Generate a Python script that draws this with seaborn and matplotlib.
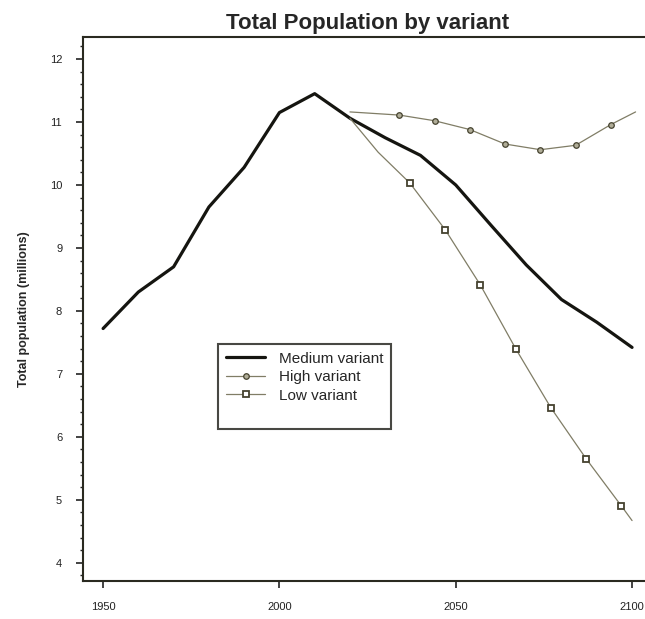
import numpy as np
import pandas as pd
import seaborn as sns
import matplotlib.pyplot as plt
from matplotlib.lines import Line2D
from matplotlib.ticker import MultipleLocator

# data (millions)
medium_years = [1950, 1960, 1970, 1980, 1990, 2000, 2010, 2020, 2030, 2040, 2050, 2060, 2070, 2080, 2090, 2100]
medium_vals = [7.72, 8.3, 8.7, 9.65, 10.28, 11.15, 11.45, 11.06, 10.75, 10.47, 10.0, 9.36, 8.73, 8.18, 7.82, 7.42]

high_years = [2020, 2034, 2044, 2054, 2064, 2074, 2084, 2094, 2101]
high_vals = [11.16, 11.11, 11.02, 10.88, 10.65, 10.56, 10.63, 10.96, 11.16]

low_years = [2020, 2028, 2037, 2047, 2057, 2067, 2077, 2087, 2097, 2100]
low_vals = [11.06, 10.52, 10.03, 9.29, 8.41, 7.40, 6.46, 5.65, 4.90, 4.67]

medium = pd.DataFrame({"year": medium_years, "pop": medium_vals})
high = pd.DataFrame({"year": high_years, "pop": high_vals})
low = pd.DataFrame({"year": low_years, "pop": low_vals})

sns.set_style("white")
plt.rcParams["font.family"] = ["Liberation Sans", "DejaVu Sans"]

fig = plt.figure(figsize=(6.45, 6.19), dpi=100)
ax = fig.add_axes([83 / 645, 38 / 619, 1 - 83 / 645 + 0.01, 1 - 38 / 619 - 37 / 619])

grey = "#807d66"
dark = "#45422f"

sns.lineplot(data=medium, x="year", y="pop", ax=ax, color="#151510", linewidth=2.3,
             label="Medium variant")
sns.lineplot(data=high, x="year", y="pop", ax=ax, color=grey, linewidth=0.9,
             marker="o", markersize=4, markerfacecolor="#b0ad98", markeredgecolor=dark,
             markeredgewidth=0.9, markevery=list(range(1, 8)), label="High variant")
sns.lineplot(data=low, x="year", y="pop", ax=ax, color=grey, linewidth=0.9,
             marker="s", markersize=5, markerfacecolor="white", markeredgecolor=dark,
             markeredgewidth=1.3, markevery=list(range(2, 9)), label="Low variant")

ax.set_xlim(1944.3, 2105.5)
ax.set_ylim(3.71, 12.35)
ax.set_xticks([1950, 2000, 2050, 2100])
ax.set_yticks([4, 5, 6, 7, 8, 9, 10, 11, 12])
ax.yaxis.set_minor_locator(MultipleLocator(0.2))
ax.tick_params(axis="both", which="major", direction="out", length=5, width=1.2,
               labelsize=8, colors="#222222", bottom=True, left=True)
ax.tick_params(axis="y", which="minor", direction="out", length=2.5, width=1,
               left=True, colors="#222222")
ax.tick_params(axis="y", pad=10)
ax.tick_params(axis="x", pad=10)

for side in ["left", "bottom", "top"]:
    ax.spines[side].set_color("#2a2a20")
    ax.spines[side].set_linewidth(1.5)
ax.spines["right"].set_visible(False)

ax.set_xlabel("")
ax.set_ylabel("Total population (millions)", fontsize=9, fontweight="bold", labelpad=14)
ax.set_title("Total Population by variant", fontsize=16, fontweight="bold", pad=6)

# the original legend box leaves an empty row of space at the bottom
handles, labels = ax.get_legend_handles_labels()
handles.append(Line2D([], [], linestyle="none"))
labels.append("")
leg = ax.legend(handles, labels, loc="upper left", bbox_to_anchor=(218 / 645, 1 - 344 / 619),
                bbox_transform=fig.transFigure, fontsize=11, frameon=True,
                fancybox=False, handlelength=2.6, handletextpad=0.9,
                labelspacing=0.3, borderpad=0.5, borderaxespad=0)
leg.get_frame().set_edgecolor("#1a1a14")
leg.get_frame().set_linewidth(1.5)

fig.savefig("out.png", dpi=100)
